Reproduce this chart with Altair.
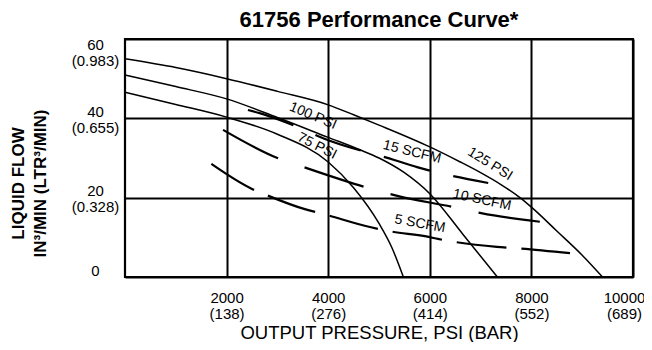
import altair as alt
import pandas as pd

# ---- text ----
chart_title = "61756 Performance Curve*"
x_title = "OUTPUT PRESSURE, PSI (BAR)"
y_title = ["LIQUID FLOW", "IN³/MIN (LTR³/MIN)"]

# ---- ticks ----
x_ticks = [2000, 4000, 6000, 8000, 10000]
x_bar = ["(138)", "(276)", "(414)", "(552)", "(689)"]
y_ticks = [0, 20, 40, 60]
y_ltr = ["", "(0.328)", "(0.655)", "(0.983)"]

# ---- solid pressure curves (psi, in3/min) ----
psi125_x = [0, 1000, 2000, 3000, 4000, 4500, 5000, 6000, 6600, 7000, 7400, 7775, 8000, 8500, 9000, 9400]
psi125_y = [55.0, 52.8, 50.0, 46.8, 43.4, 40.9, 38.3, 32.8, 29.0, 26.3, 23.3, 20.0, 17.6, 11.6, 5.5, 0.0]

psi100_x = [0, 1000, 2000, 3000, 4000, 4600, 5000, 5500, 6000, 6650, 7330]
psi100_y = [50.9, 48.0, 44.9, 40.2, 35.2, 32.2, 30.0, 26.3, 21.0, 10.8, 0.0]

psi75_x = [0, 1000, 2000, 3000, 4000, 4500, 5000, 5250, 5480]
psi75_y = [46.6, 43.5, 40.3, 36.0, 29.0, 22.5, 13.5, 7.5, 0.0]

# ---- dashed air consumption curves ----
scfm15_x = [2420, 2650, 3400, 3900, 5300, 5750, 7150]
scfm15_y = [42.1, 41.3, 37.8, 35.0, 29.5, 27.7, 23.7]

scfm10_x = [1930, 3000, 3520, 4800, 5380, 6480, 7010, 8190]
scfm10_y = [37.1, 30.0, 27.7, 22.4, 20.4, 17.6, 16.1, 13.9]

scfm5_x = [1700, 2500, 2740, 3540, 3900, 4820, 5180, 5980, 6160, 7320, 7660, 8760]
scfm5_y = [28.5, 22.2, 20.9, 17.1, 15.9, 12.6, 11.6, 10.1, 9.6, 7.6, 7.3, 6.0]

# ---- curve labels ----
label_text = ["100 PSI", "75 PSI", "15 SCFM", "125 PSI", "10 SCFM", "5 SCFM"]
label_x = [3700, 3780, 5650, 7185, 7028, 5807]
label_y = [40.6, 33.0, 31.5, 28.5, 19.4, 13.4]
label_angle = [23, 27, 14, 32, 12, 10]


def frame(xs, ys, name):
    return pd.DataFrame({"psi": xs, "flow": ys, "curve": name})


def ternary(vals, texts):
    parts = []
    for v, t in zip(vals, texts):
        if t:
            parts.append(f"datum.value == {v} ? ['{v}', '{t}']")
        else:
            parts.append(f"datum.value == {v} ? '{v}'")
    return " : ".join(parts) + " : ''"


FONT = "Liberation Sans, Arial, Helvetica, sans-serif"

xscale = alt.Scale(domain=[0, 10000], nice=False, zero=False)
yscale = alt.Scale(domain=[0, 60], nice=False, zero=False)

x_enc = alt.X(
    "psi:Q",
    scale=xscale,
    axis=alt.Axis(
        values=x_ticks,
        labelExpr=ternary(x_ticks, x_bar),
        title=x_title,
        titleFont=FONT,
        titleFontSize=18.5,
        titleFontWeight="normal",
        titleX=254,
        titleY=55,
        titleAlign="center",
        titleBaseline="middle",
        labelAlign="center",
        labelBaseline="top",
        labelPadding=13,
        labelFlush=False,
        labelOffset={"condition": {"test": "datum.value == 10000", "value": -9}, "value": 0},
        labelOverlap=False,
    ),
)
y_enc = alt.Y(
    "flow:Q",
    scale=yscale,
    axis=alt.Axis(
        values=y_ticks,
        labelExpr=ternary(y_ticks, y_ltr),
        title=y_title,
        titleFont=FONT,
        titleFontSize=17,
        titleFontWeight="bold",
        titleLineHeight=22,
        titleAngle=270,
        titleX=-107,
        titleY=144,
        titleAlign="center",
        titleBaseline="middle",
        labelAlign="center",
        labelBaseline="middle",
        labelPadding=30,
        labelFlush=False,
        labelOffset={"condition": {"test": "datum.value == 60", "value": 5}, "value": -7},
        labelOverlap=False,
    ),
)

solid = pd.concat([
    frame(psi125_x, psi125_y, "125 PSI"),
    frame(psi100_x, psi100_y, "100 PSI"),
    frame(psi75_x, psi75_y, "75 PSI"),
])

base_solid = alt.Chart(solid).mark_line(
    color="black", strokeWidth=1.5, interpolate="monotone"
).encode(x=x_enc, y=y_enc, detail="curve:N")


def dashed(xs, ys, name, dash):
    return alt.Chart(frame(xs, ys, name)).mark_line(
        color="black", strokeWidth=2.2, strokeDash=dash, interpolate="monotone"
    ).encode(x=alt.X("psi:Q", scale=xscale), y=alt.Y("flow:Q", scale=yscale))


d15 = dashed(scfm15_x, scfm15_y, "15 SCFM", [48, 24])
d10 = dashed(scfm10_x, scfm10_y, "10 SCFM", [62, 28])
d5 = dashed(scfm5_x, scfm5_y, "5 SCFM", [50, 15])

labels = alt.Chart(pd.DataFrame({
    "text": label_text, "psi": label_x, "flow": label_y, "angle": label_angle
})).mark_text(font=FONT, fontSize=14, color="black", align="center", baseline="middle").encode(
    x=alt.X("psi:Q", scale=xscale),
    y=alt.Y("flow:Q", scale=yscale),
    text="text:N",
    angle=alt.Angle("angle:Q", scale=None),
)

chart = alt.layer(base_solid, d15, d10, d5, labels).properties(
    width=508,
    height=238,
    background="white",
    title=alt.TitleParams(chart_title, font=FONT, fontSize=22, fontWeight="bold",
                          anchor="middle", offset=5, color="black"),
    autosize=alt.AutoSizeParams(type="none"),
    padding={"left": 117, "top": 31, "right": 11, "bottom": 65},
).configure_view(
    stroke="black", strokeWidth=2.2
).configure_axis(
    labelFont=FONT,
    labelFontSize=15,
    labelLineHeight=16,
    labelColor="black",
    titleColor="black",
    ticks=False,
    tickSize=0,
    domain=False,
    grid=True,
    gridColor="black",
    gridWidth=2,
    gridOpacity=1,
)

chart.save("out.html", embed_options={"renderer": "svg", "actions": False})
